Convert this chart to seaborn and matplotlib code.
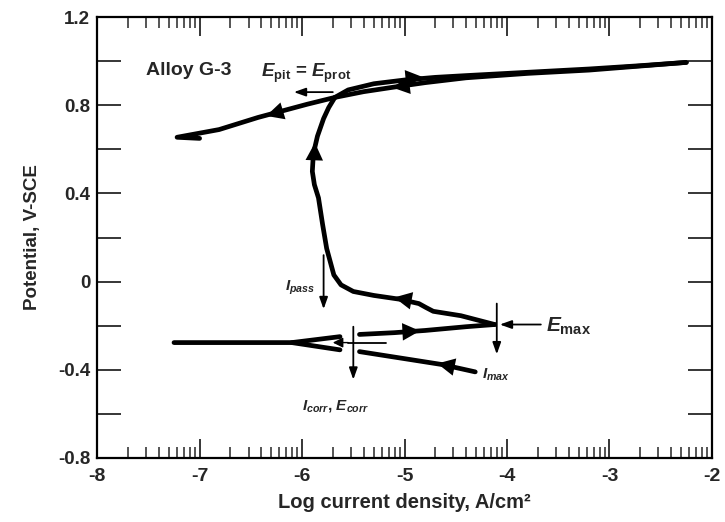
import numpy as np
import pandas as pd
import matplotlib
matplotlib.use("Agg")
import matplotlib.pyplot as plt
import seaborn as sns

# ---- data ----
cath_x = [-7.25, -6.60, -6.10, -5.63]
cath_y = [-0.277, -0.277, -0.277, -0.250]
cath2_x = [-6.10, -5.63]
cath2_y = [-0.277, -0.310]

fwd_low_x = [-5.44, -5.10, -4.80, -4.40, -4.12]
fwd_low_y = [-0.240, -0.232, -0.222, -0.205, -0.195]

active_x = [-4.12, -4.45, -4.72, -4.79, -4.86, -5.05, -5.30, -5.50, -5.62, -5.69, -5.76, -5.80, -5.84, -5.88, -5.90, -5.89, -5.85, -5.79, -5.74, -5.68]
active_y = [-0.195, -0.155, -0.135, -0.118, -0.100, -0.080, -0.063, -0.045, -0.015, 0.030, 0.150, 0.260, 0.380, 0.440, 0.500, 0.580, 0.660, 0.740, 0.790, 0.836]

fwd_up_x = [-5.68, -5.55, -5.30, -5.00, -4.70, -4.40, -3.80, -3.20, -2.70, -2.25]
fwd_up_y = [0.836, 0.870, 0.898, 0.915, 0.927, 0.935, 0.950, 0.965, 0.980, 0.995]

ret_up_x = [-2.25, -3.20, -3.80, -4.40, -4.80, -5.10, -5.40, -5.68, -5.95, -6.43, -6.81, -7.22, -7.00]
ret_up_y = [0.995, 0.960, 0.945, 0.925, 0.903, 0.883, 0.862, 0.836, 0.805, 0.745, 0.690, 0.655, 0.650]

ret_low_x = [-4.31, -4.63, -5.00, -5.44]
ret_low_y = [-0.410, -0.377, -0.350, -0.318]

# arrowheads on the curve: tail x, tail y, tip x, tip y
arrows = [
    (-5.05, -0.229, -4.85, -0.224),
    (-4.90, -0.090, -5.10, -0.072),
    (-5.885, 0.50, -5.875, 0.63),
    (-5.05, 0.918, -4.82, 0.928),
    (-4.90, 0.894, -5.12, 0.881),
    (-6.15, 0.780, -6.35, 0.752),
    (-4.45, -0.394, -4.68, -0.372),
]

xticks = [-8, -7, -6, -5, -4, -3, -2]
yticks = [-0.8, -0.4, 0, 0.4, 0.8, 1.2]
ytick_labels = ["-0.8", "-0.4", "0", "0.4", "0.8", "1.2"]

sns.set_theme(style="white")
plt.rcParams["font.family"] = ["Liberation Sans", "DejaVu Sans"]
plt.rcParams["font.weight"] = "bold"
plt.rcParams["mathtext.fontset"] = "custom"
plt.rcParams["mathtext.it"] = "Liberation Sans:italic:bold"
plt.rcParams["mathtext.rm"] = "Liberation Sans:bold"
plt.rcParams["mathtext.bf"] = "Liberation Sans:bold"

fig = plt.figure(figsize=(7.25, 5.22), dpi=100)
ax = fig.add_axes([0.134, 0.123, 0.848, 0.844])

lw = 3.4
segs = [(cath_x, cath_y), (cath2_x, cath2_y), (fwd_low_x, fwd_low_y), (active_x, active_y),
        (fwd_up_x, fwd_up_y), (ret_up_x, ret_up_y), (ret_low_x, ret_low_y)]
for sx, sy in segs:
    df = pd.DataFrame({"x": sx, "y": sy})
    sns.lineplot(data=df, x="x", y="y", sort=False, estimator=None, color="black",
                 linewidth=lw, ax=ax, solid_capstyle="round", solid_joinstyle="round")

for tx, ty, hx, hy in arrows:
    ax.annotate("", xy=(hx, hy), xytext=(tx, ty),
                arrowprops=dict(arrowstyle="-|>,head_length=0.9,head_width=0.45",
                                color="black", lw=0, mutation_scale=14, shrinkA=0, shrinkB=0))

thin = dict(arrowstyle="-|>,head_length=0.7,head_width=0.25", color="black", lw=1.3,
            mutation_scale=10, shrinkA=0, shrinkB=0)
# E_pit = E_prot arrow
ax.annotate("", xy=(-6.08, 0.86), xytext=(-5.70, 0.86), arrowprops=thin)
# I_pass arrow
ax.annotate("", xy=(-5.79, -0.125), xytext=(-5.79, 0.12), arrowprops=thin)
# E_max arrows
ax.annotate("", xy=(-4.07, -0.195), xytext=(-3.67, -0.195), arrowprops=thin)
ax.annotate("", xy=(-4.10, -0.33), xytext=(-4.10, -0.10), arrowprops=thin)
# I_corr, E_corr marks
ax.annotate("", xy=(-5.50, -0.445), xytext=(-5.50, -0.205), arrowprops=thin)
ax.plot([-5.55, -5.18], [-0.277, -0.277], color="black", lw=1.3)
ax.annotate("", xy=(-5.70, -0.277), xytext=(-5.55, -0.277),
            arrowprops=dict(arrowstyle="-|>,head_length=0.6,head_width=0.3", color="black",
                            lw=1.0, mutation_scale=10, shrinkA=0, shrinkB=0))

ax.text(-7.52, 0.96, "Alloy G-3", fontsize=14, fontweight="bold", ha="left", va="center")
ax.text(-6.40, 0.945, r"$E_{\mathrm{pit}}$ = $E_{\mathrm{prot}}$", fontsize=13.5, ha="left", va="center")
ax.text(-6.02, -0.03, r"$I_{pass}$", fontsize=11, ha="center", va="center")
ax.text(-3.62, -0.205, r"$E_{\mathrm{max}}$", fontsize=15, ha="left", va="center")
ax.text(-4.24, -0.425, r"$I_{max}$", fontsize=11, ha="left", va="center")
ax.text(-6.0, -0.565, r"$I_{corr}$, $E_{corr}$", fontsize=11, ha="left", va="center")

ax.set_xlim(-8, -2)
ax.set_ylim(-0.8, 1.2)
ax.set_xticks(xticks)
ax.set_xticklabels([str(v) for v in xticks])
minor_x = [d + np.log10(k) for d in range(-8, -2) for k in range(2, 10)]
ax.set_xticks(minor_x, minor=True)
ax.set_yticks(yticks)
ax.set_yticklabels(ytick_labels)
ax.set_yticks([-0.6, -0.2, 0.2, 0.6, 1.0], minor=True)

ax.tick_params(axis="x", which="major", direction="in", length=14, width=1.3, top=True, bottom=True,
               labelsize=14, pad=7)
ax.tick_params(axis="x", which="minor", direction="in", length=8, width=1.1, top=True, bottom=True)
ax.tick_params(axis="y", which="both", direction="in", length=17, width=1.3, left=True, right=True,
               labelsize=13.5, pad=5)
for s in ax.spines.values():
    s.set_color("black")
    s.set_linewidth(1.6)

ax.set_xlabel("Log current density, A/cm\u00b2", fontsize=14.5, fontweight="bold", labelpad=6)
ax.set_ylabel("Potential, V-SCE", fontsize=13.5, fontweight="bold", labelpad=12)

fig.savefig("out.png", dpi=100)
